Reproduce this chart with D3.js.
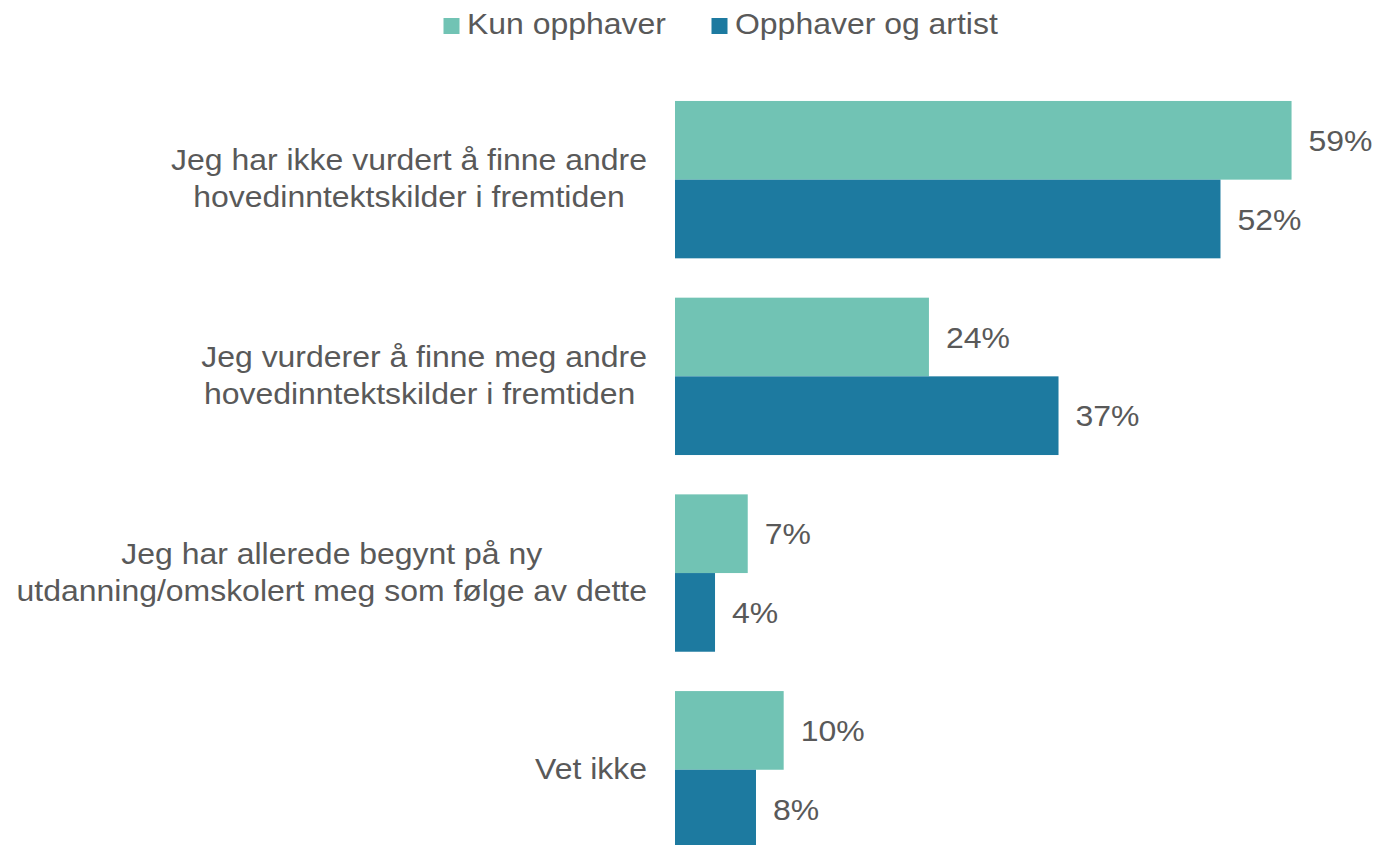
<!DOCTYPE html>
<html>
<head>
<meta charset="utf-8">
<script src="https://cdn.jsdelivr.net/npm/d3@7"></script>
<style>
  html, body { margin: 0; padding: 0; background: #fff; }
  svg { display: block; font-family: "Liberation Sans", Arial, sans-serif; }
  text { white-space: pre; }
</style>
</head>
<body>
<svg id="chart" width="1377" height="845"></svg>
<script>
// ---- data ----
const categories = [
  ["Jeg har ikke vurdert å finne andre", "hovedinntektskilder i fremtiden"],
  ["Jeg vurderer å finne meg andre", "hovedinntektskilder i fremtiden "],
  ["Jeg har allerede begynt på ny", "utdanning/omskolert meg som følge av dette"],
  ["Vet ikke"]
];
const seriesNames = ["Kun opphaver", "Opphaver og artist"];
const kunOpphaver = [0.590, 0.243, 0.0696, 0.104];
const opphaverOgArtist = [0.522, 0.367, 0.0383, 0.0775];
const seriesColors = ["#71C3B4", "#1D7AA0"];

// ---- layout ----
const svg = d3.select("#chart");
const textColor = "#595959";
const fontSize = 30;
const sx = 1.065; // slight horizontal text stretch seen in the reference
const x0 = 675;
const x = d3.scaleLinear().domain([0, 1]).range([x0, x0 + 1045]);
const catIdx = d3.range(categories.length);
const y = d3.scaleBand().domain(catIdx).range([81.3, 868.1]).paddingInner(0.2).paddingOuter(0.1);
const ySub = d3.scaleBand().domain([0, 1]).range([0, y.bandwidth()]);
const series = [kunOpphaver, opphaverOgArtist];
const fmt = d3.format(".0%");

function place(sel, fx, fy) {
  sel.attr("transform", (d, i) => `translate(${fx(d, i)},${fy(d, i)}) scale(${sx},1)`);
}

// bars
series.forEach((vals, s) => {
  const g = svg.append("g");
  g.selectAll("rect").data(vals).join("rect")
    .attr("x", x(0))
    .attr("y", (d, i) => y(i) + ySub(s))
    .attr("width", d => x(d) - x(0))
    .attr("height", ySub.bandwidth())
    .attr("fill", seriesColors[s]);
  const t = g.selectAll("text").data(vals).join("text")
    .attr("dy", "0.35em")
    .attr("fill", textColor)
    .attr("font-size", fontSize)
    .text(d => fmt(d));
  place(t, d => x(d) + 17, (d, i) => y(i) + ySub(s) + ySub.bandwidth() / 2);
});

// category labels (block right-aligned, lines centered)
const labelRight = 647;
const lineH = 37;
categories.forEach((lines, i) => {
  const g = svg.append("g");
  const cy = y(i) + y.bandwidth() / 2;
  const ts = g.selectAll("text").data(lines).join("text")
    .attr("dy", "0.35em")
    .attr("fill", textColor)
    .attr("font-size", fontSize)
    .attr("text-anchor", "middle")
    .text(d => d);
  let maxW = 0;
  ts.each(function() { maxW = Math.max(maxW, this.getComputedTextLength() * sx); });
  place(ts, () => labelRight - maxW / 2, (d, k) => cy - 1.5 + (k - (lines.length - 1) / 2) * lineH);
});

// legend
const legend = svg.append("g");
const legendX = [443.5, 711.5];
seriesNames.forEach((name, s) => {
  legend.append("rect")
    .attr("x", legendX[s]).attr("y", 18)
    .attr("width", 16).attr("height", 16)
    .attr("fill", seriesColors[s]);
  const t = legend.append("text").datum(name)
    .attr("dy", "0.35em")
    .attr("fill", textColor)
    .attr("font-size", fontSize)
    .text(name);
  place(t, () => legendX[s] + 23.5, () => 23.5);
});
</script>
</body>
</html>
